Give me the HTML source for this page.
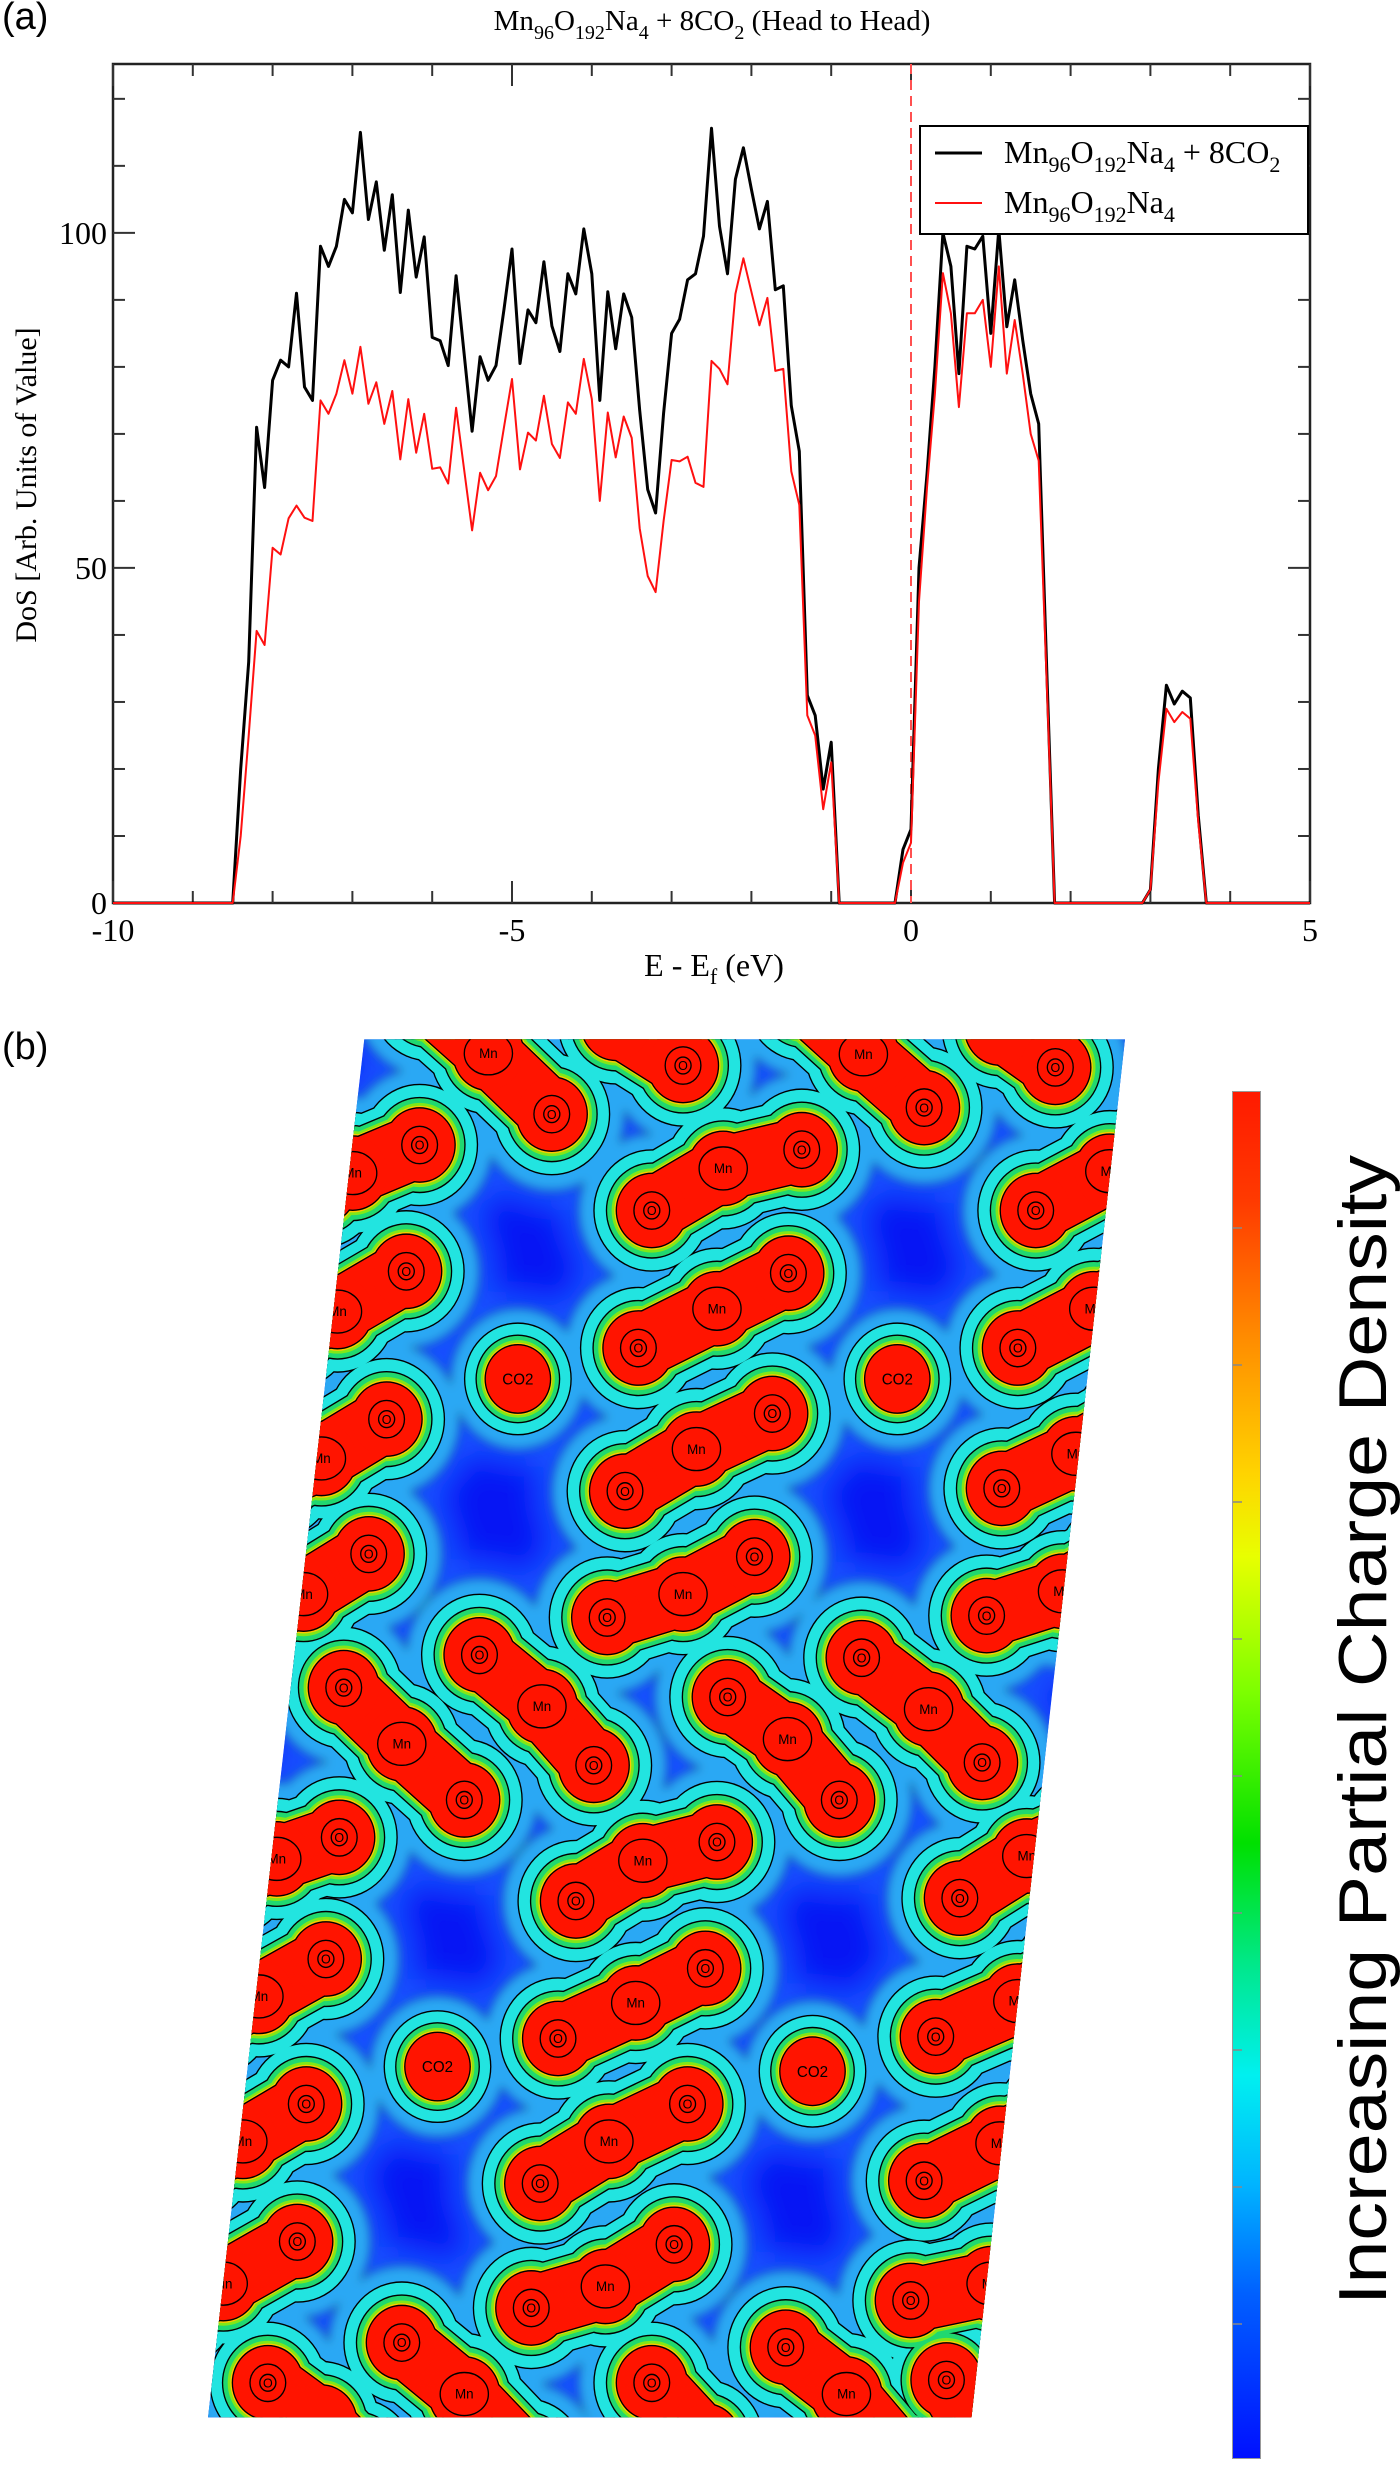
<!DOCTYPE html>
<html><head><meta charset="utf-8"><title>DoS and partial charge density</title>
<style>
html,body{margin:0;padding:0;background:#fff;}
body{width:1400px;height:2467px;position:relative;overflow:hidden;font-family:"Liberation Serif",serif;}
.abs{position:absolute;}
</style></head>
<body>
<div class="abs" style="left:2px;top:-4px;font:38px 'Liberation Sans',sans-serif;">(a)</div>
<svg id="dos" class="abs" style="left:0;top:0" width="1400" height="1000" viewBox="0 0 1400 1000"></svg>

<div class="abs" style="left:2px;top:1026px;font:38px 'Liberation Sans',sans-serif;">(b)</div>
<svg id="map" class="abs" style="left:0;top:1000px" width="1400" height="1467" viewBox="0 0 1568 1568" preserveAspectRatio="none"></svg>

<div class="abs" style="left:1232px;top:1091px;width:29px;height:1368px;border:1px solid #999;box-sizing:border-box;background:linear-gradient(to bottom,#ff1a00 0%,#ff3a00 8%,#ff8c00 18%,#ffd400 28%,#e8ff00 34%,#7cff00 44%,#00e000 55%,#00e88c 64%,#00f0f0 72%,#00b4ff 80%,#0060ff 88%,#0010ff 100%);"></div>
<svg class="abs" style="left:1228px;top:1091px" width="40" height="1368">
  <g stroke="#888" stroke-width="1.5">
    <line x1="5" x2="14" y1="137" y2="137"/><line x1="5" x2="14" y1="274" y2="274"/><line x1="5" x2="14" y1="411" y2="411"/><line x1="5" x2="14" y1="548" y2="548"/><line x1="5" x2="14" y1="685" y2="685"/><line x1="5" x2="14" y1="822" y2="822"/><line x1="5" x2="14" y1="959" y2="959"/><line x1="5" x2="14" y1="1096" y2="1096"/><line x1="5" x2="14" y1="1233" y2="1233"/>
  </g>
</svg>
<svg class="abs" style="left:1300px;top:1100px" width="100" height="1260">
  <text x="0" y="0" transform="translate(86,630) rotate(-90)" text-anchor="middle" font-family="Liberation Sans, sans-serif" font-size="68" textLength="1150" lengthAdjust="spacingAndGlyphs" fill="#000">Increasing Partial Charge Density</text>
</svg>

<script>
// ---- DoS chart data ----
const energies = [-10,
 -8.5,-8.4,-8.3,-8.2,-8.1,-8.0,-7.9,-7.8,-7.7,-7.6,-7.5,-7.4,-7.3,-7.2,-7.1,-7.0,-6.9,-6.8,-6.7,-6.6,
 -6.5,-6.4,-6.3,-6.2,-6.1,-6.0,-5.9,-5.8,-5.7,-5.6,-5.5,-5.4,-5.3,-5.2,-5.1,-5.0,-4.9,-4.8,-4.7,-4.6,
 -4.5,-4.4,-4.3,-4.2,-4.1,-4.0,-3.9,-3.8,-3.7,-3.6,-3.5,-3.4,-3.3,-3.2,-3.1,-3.0,-2.9,-2.8,-2.7,-2.6,
 -2.5,-2.4,-2.3,-2.2,-2.1,-2.0,-1.9,-1.8,-1.7,-1.6,-1.5,-1.4,-1.3,-1.2,-1.1,-1.0,-0.9,
 -0.2,-0.1,0.0,0.1,0.2,0.3,0.4,0.5,0.6,0.7,0.8,0.9,1.0,1.1,1.2,1.3,1.4,1.5,1.6,1.7,1.8,
 2.9,3.0,3.1,3.2,3.3,3.4,3.5,3.6,3.7,
 5];
const dosWithCO2 = [0,
 0,20,36,71,62,78,81,80,91,77,75,98,95,98,105,103,115,102,107.6,97.4,
 105.7,91.1,103.4,93.4,99.4,84.4,83.9,80.2,93.6,82,70.4,81.5,78,80.2,88.6,97.6,80.5,88.5,86.6,95.7,
 86.1,82.3,93.9,90.9,100.6,93.9,75,91.2,82.7,90.9,87.4,73.5,61.7,58.2,73.1,85,87.1,93,93.9,99.5,
 115.6,101,93.9,108,112.7,106.5,100.6,104.7,91.5,92.1,74.2,67.4,31,28,17,24,0,
 0,8,11,50,64,80,100,95,79,98,97.6,99.5,85,100.5,86,93,84,76,71.5,35,0,
 0,2,20,32.5,29.7,31.6,30.6,13,0,
 0];
const dosPristine = [0,
 0,10,25,40.6,38.5,53,52,57.4,59.3,57.5,57,75,73,76,81,76,83,74.5,77.7,71.5,
 76.4,66.2,75.2,67.2,73,64.8,65,62.6,73.9,64.7,55.6,64.2,61.6,63.7,71,78.2,64.7,70.2,69,75.7,
 68.5,66.4,74.7,73,81.2,75.2,60,73.2,66.5,72.6,69.4,55.9,48.8,46.4,57,66.1,65.9,66.6,62.7,62.1,
 80.9,79.7,77.4,90.9,96.2,91.2,86.2,90.3,79.4,79.7,64.4,59.4,28,25,14,21,0,
 0,6,9,45,62,76,94,88,74,88,88,90,80,95,79,87,79,70,66,33,0,
 0,2,18,29,27,28.5,27.5,12,0,
 0];
const xTickValues = [-10,-5,0,5];
const xTickLabels = ["-10","-5","0","5"];
const yTickValues = [0,50,100];
const yTickLabels = ["0","50","100"];

const NS = "http://www.w3.org/2000/svg";
const X0 = 113, X1 = 1310, Y0 = 903, YT = 64;
const xMin = -10, xMax = 5, yMin = 0, yMax = 125.2;
function xS(e){ return X0 + (e - xMin) / (xMax - xMin) * (X1 - X0); }
function yS(v){ return Y0 - (v - yMin) / (yMax - yMin) * (Y0 - YT); }
function mk(tag, attrs, parent){ const el = document.createElementNS(NS, tag); for (const k in attrs) el.setAttribute(k, attrs[k]); parent.appendChild(el); return el; }

const svg = document.getElementById('dos');

const title = mk('text', {x: 712, y: 30, 'text-anchor': 'middle', 'font-size': 29, 'font-family': 'Liberation Serif, serif'}, svg);


title.innerHTML = 'Mn<tspan dy="9" font-size="20">96</tspan><tspan dy="-9">O</tspan><tspan dy="9" font-size="20">192</tspan><tspan dy="-9">Na</tspan><tspan dy="9" font-size="20">4</tspan><tspan dy="-9"> + 8CO</tspan><tspan dy="9" font-size="20">2</tspan><tspan dy="-9"> (Head to Head)</tspan>';

const frame = mk('rect', {x: X0, y: YT, width: X1 - X0, height: Y0 - YT, fill: 'none', stroke: '#222', 'stroke-width': 2.5}, svg);



for (let e = xMin; e <= xMax; e += 1) {
  const major = (e % 5 === 0);
  const L = major ? 22 : 12;
  const t1 = mk('line', {x1: xS(e), x2: xS(e), y1: Y0, y2: Y0 - L, stroke: '#333', 'stroke-width': 2}, svg);
  
  
  const t2 = mk('line', {x1: xS(e), x2: xS(e), y1: YT, y2: YT + L, stroke: '#333', 'stroke-width': 2}, svg);
  
  
}
xTickValues.forEach((v, i) => {
  const t = mk('text', {x: xS(v), y: 941, 'text-anchor': 'middle', 'font-size': 32, 'font-family': 'Liberation Serif, serif'}, svg);
  t.textContent = xTickLabels[i];
  
  
});
for (let v = 0; v <= 120; v += 10) {
  const major = (v % 50 === 0);
  const L = major ? 22 : 12;
  const t1 = mk('line', {x1: X0, x2: X0 + L, y1: yS(v), y2: yS(v), stroke: '#333', 'stroke-width': 2}, svg);
  
  
  const t2 = mk('line', {x1: X1, x2: X1 - L, y1: yS(v), y2: yS(v), stroke: '#333', 'stroke-width': 2}, svg);
  
  
}
yTickValues.forEach((v, i) => {
  const t = mk('text', {x: 107, y: yS(v) + 11, 'text-anchor': 'end', 'font-size': 32, 'font-family': 'Liberation Serif, serif'}, svg);
  t.textContent = yTickLabels[i];
  
  
});

const xt = mk('text', {x: 714, y: 976, 'text-anchor': 'middle', 'font-size': 32, 'font-family': 'Liberation Serif, serif'}, svg);
xt.innerHTML = 'E - E<tspan dy="8" font-size="22">f</tspan><tspan dy="-8"> (eV)</tspan>';


const yt = mk('text', {x: 0, y: 0, transform: 'translate(36,485) rotate(-90)', 'text-anchor': 'middle', 'font-size': 30, 'font-family': 'Liberation Serif, serif'}, svg);
yt.textContent = 'DoS [Arb. Units of Value]';



const fl = mk('line', {x1: xS(0), x2: xS(0), y1: YT, y2: Y0, stroke: '#ff5050', 'stroke-width': 2, 'stroke-dasharray': '10,6'}, svg);



function pts(vals){ return energies.map((e, i) => xS(e).toFixed(1) + ',' + yS(vals[i]).toFixed(1)).join(' '); }
const sB = mk('polyline', {points: pts(dosWithCO2), fill: 'none', stroke: '#000', 'stroke-width': 3, 'stroke-linejoin': 'round'}, svg);


const sR = mk('polyline', {points: pts(dosPristine), fill: 'none', stroke: '#ff1010', 'stroke-width': 2, 'stroke-linejoin': 'round'}, svg);



const lg = mk('g', {}, svg);


mk('rect', {x: 920, y: 126, width: 388, height: 108, fill: '#fff', stroke: '#000', 'stroke-width': 2}, lg);
const l1 = mk('line', {x1: 935, x2: 982, y1: 153, y2: 153, stroke: '#000', 'stroke-width': 3}, lg);


const l2 = mk('line', {x1: 935, x2: 982, y1: 203, y2: 203, stroke: '#ff1010', 'stroke-width': 2}, lg);


const lt1 = mk('text', {x: 1004, y: 163, 'font-size': 32, 'font-family': 'Liberation Serif, serif'}, lg);
lt1.innerHTML = 'Mn<tspan dy="9" font-size="22">96</tspan><tspan dy="-9">O</tspan><tspan dy="9" font-size="22">192</tspan><tspan dy="-9">Na</tspan><tspan dy="9" font-size="22">4</tspan><tspan dy="-9"> + 8CO</tspan><tspan dy="9" font-size="22">2</tspan>';


const lt2 = mk('text', {x: 1004, y: 213, 'font-size': 32, 'font-family': 'Liberation Serif, serif'}, lg);
lt2.innerHTML = 'Mn<tspan dy="9" font-size="22">96</tspan><tspan dy="-9">O</tspan><tspan dy="9" font-size="22">192</tspan><tspan dy="-9">Na</tspan><tspan dy="9" font-size="22">4</tspan>';


</script>

<script>
// ---- charge density map (coordinates in 1568x1568 view space) ----
const chains = [
 [[480,0,''],[547,57,'Mn'],[618,122,'O']],
 [[690,25,''],[765,70,'O']],
 [[900,0,''],[967,58,'Mn'],[1035,115,'O']],
 [[1120,30,''],[1182,72,'O']],
 [[360,200,''],[395,185,'Mn'],[470,155,'O']],
 [[730,225,'O'],[810,180,'Mn'],[898,160,'O']],
 [[1160,225,'O'],[1243,183,'Mn'],[1300,160,'']],
 [[330,350,''],[378,333,'Mn'],[455,290,'O']],
 [[715,372,'O'],[803,330,'Mn'],[883,292,'O']],
 [[1140,372,'O'],[1225,330,'Mn'],[1290,300,'']],
 [[310,510,''],[360,490,'Mn'],[433,448,'O']],
 [[700,525,'O'],[780,480,'Mn'],[865,442,'O']],
 [[1122,522,'O'],[1205,485,'Mn'],[1270,450,'']],
 [[290,655,''],[340,635,'Mn'],[413,592,'O']],
 [[680,660,'O'],[765,635,'Mn'],[845,595,'O']],
 [[1105,658,'O'],[1190,632,'Mn'],[1250,600,'']],
 [[385,735,'O'],[450,795,'Mn'],[520,855,'O']],
 [[537,700,'O'],[607,755,'Mn'],[665,818,'O']],
 [[815,745,'O'],[882,790,'Mn'],[940,855,'O']],
 [[965,703,'O'],[1040,758,'Mn'],[1100,815,'O']],
 [[260,935,''],[310,918,'Mn'],[380,895,'O']],
 [[645,963,'O'],[720,920,'Mn'],[803,900,'O']],
 [[1075,960,'O'],[1150,915,'Mn'],[1210,890,'']],
 [[240,1085,''],[290,1065,'Mn'],[365,1025,'O']],
 [[625,1110,'O'],[712,1072,'Mn'],[790,1035,'O']],
 [[1048,1108,'O'],[1140,1070,'Mn'],[1200,1040,'']],
 [[220,1240,''],[272,1220,'Mn'],[343,1180,'O']],
 [[605,1265,'O'],[682,1220,'Mn'],[770,1180,'O']],
 [[1035,1262,'O'],[1120,1222,'Mn'],[1180,1195,'']],
 [[200,1395,''],[250,1372,'Mn'],[333,1327,'O']],
 [[595,1398,'O'],[678,1375,'Mn'],[755,1330,'O']],
 [[1020,1390,'O'],[1110,1372,'Mn'],[1170,1345,'']],
 [[450,1435,'O'],[520,1490,'Mn'],[590,1560,'']],
 [[300,1478,'O'],[360,1520,''],[400,1560,'']],
 [[880,1440,'O'],[948,1490,'Mn'],[1010,1560,'']],
 [[730,1478,'O'],[790,1540,'']],
 [[1060,1475,'O'],[1100,1540,'']]
];
const co2Sites = [[580,405],[1005,405],[490,1140],[910,1145]];
const bandWidths = [205,162,128,100,90,84,78];
const bandColors = ['#1450ff','#2aa8f4','#22e4e0','#20d870','#80e818','#ffc800','#ff1400'];
const contourLevels = [162,128,100,78];

(function(){
 const NS = "http://www.w3.org/2000/svg";
 const map = document.getElementById('map');
 function mk(tag, attrs, parent){ const el = document.createElementNS(NS, tag); for (const k in attrs) el.setAttribute(k, attrs[k]); parent.appendChild(el); return el; }
 const defs = mk('defs', {}, map);
 const cp = mk('clipPath', {id: 'para'}, defs);
 mk('polygon', {points: '408,42 1260,42 1088,1515 233,1515'}, cp);
 const f = mk('filter', {id: 'soft', x: '-20%', y: '-20%', width: '140%', height: '140%'}, defs);
 mk('feGaussianBlur', {stdDeviation: '16'}, f);
 const f2 = mk('filter', {id: 'soft2', x: '-20%', y: '-20%', width: '140%', height: '140%'}, defs);
 mk('feGaussianBlur', {stdDeviation: '5'}, f2);
 const g = mk('g', {'clip-path': 'url(#para)'}, map);
 
 
 mk('polygon', {points: '408,42 1260,42 1088,1515 233,1515', fill: '#0615f4'}, g);
 function chainPath(c){ return 'M' + c.map(p => p[0] + ' ' + p[1]).join(' L'); }
 function drawShapes(parent, w, color, extra){
   chains.forEach(c => {
     mk('path', {d: chainPath(c), fill: 'none', stroke: color, 'stroke-width': w * 0.86 + extra, 'stroke-linecap': 'round', 'stroke-linejoin': 'round'}, parent);
     c.forEach(p => { mk('circle', {cx: p[0], cy: p[1], r: (w + extra) / 2, fill: color}, parent); });
   });
   co2Sites.forEach(s => { mk('circle', {cx: s[0], cy: s[1], r: (w * 0.92 + extra) / 2, fill: color}, parent); });
 }
 bandWidths.forEach((w, li) => {
   const lg = mk('g', li === 0 ? {filter: 'url(#soft)'} : (li === 1 ? {filter: 'url(#soft2)'} : {}), g);
   
   
   if (contourLevels.indexOf(w) >= 0) drawShapes(lg, w, '#000', 3);
   drawShapes(lg, w, bandColors[li], 0);
 });
 const lab = mk('g', {}, g);
 chains.forEach(c => c.forEach(p => {
   if (p[2] === 'O') {
     mk('circle', {cx: p[0], cy: p[1], r: 20, fill: 'none', stroke: '#000', 'stroke-width': 1.5}, lab);
     mk('circle', {cx: p[0], cy: p[1], r: 9, fill: 'none', stroke: '#000', 'stroke-width': 1.5}, lab);
     const t = mk('text', {x: p[0], y: p[1] + 5, 'text-anchor': 'middle', 'font-size': 14, 'font-family': 'Liberation Sans, sans-serif'}, lab);
     t.textContent = 'O';
     
     
   } else if (p[2] === 'Mn') {
     mk('ellipse', {cx: p[0], cy: p[1], rx: 27, ry: 23, fill: 'none', stroke: '#000', 'stroke-width': 1.5}, lab);
     const t = mk('text', {x: p[0], y: p[1] + 5, 'text-anchor': 'middle', 'font-size': 15, 'font-family': 'Liberation Sans, sans-serif'}, lab);
     t.textContent = 'Mn';
     
     
   }
 }));
 co2Sites.forEach(s => {
   const t = mk('text', {x: s[0], y: s[1] + 6, 'text-anchor': 'middle', 'font-size': 17, 'font-family': 'Liberation Sans, sans-serif'}, lab);
   t.textContent = 'CO2';
   
   
 });
})();
</script>
</body></html>
